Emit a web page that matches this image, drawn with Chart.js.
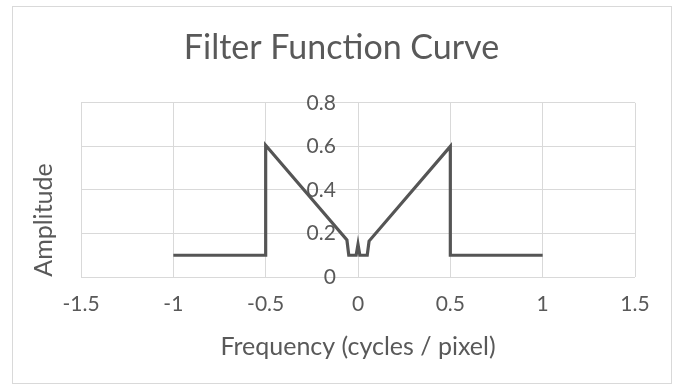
<!DOCTYPE html>
<html>
<head>
<meta charset="utf-8">
<script src="https://cdn.jsdelivr.net/npm/chart.js@4.4.1/dist/chart.umd.min.js"></script>
<style>
  html, body { margin: 0; padding: 0; background: #fff; }
  #frame {
    position: absolute; left: 12px; top: 6px;
    width: 660px; height: 378px;
    border: 1px solid #d9d9d9; box-sizing: border-box;
  }
  #wrap { position: absolute; left: 0; top: 0; width: 683px; height: 390px; }
</style>
</head>
<body>
<div id="frame"></div>
<div id="wrap"><canvas id="filterChart" width="683" height="390"></canvas></div>
<script>
// Filter curve
const frequency = [-1, -0.5, -0.5, -0.06, -0.05, -0.01, 0, 0.01, 0.05, 0.06, 0.5, 0.5, 1];
const amplitude = [0.1, 0.1, 0.605, 0.17, 0.1, 0.1, 0.15, 0.1, 0.1, 0.165, 0.6, 0.1, 0.1];
const xTicks = [-1.5, -1, -0.5, 0, 0.5, 1, 1.5];
const yTicks = [0, 0.2, 0.4, 0.6, 0.8];

const textColor = '#595959';
const gridColor = '#d9d9d9';
const fontFamily = 'Lato, "Open Sans", sans-serif';

const points = frequency.map((f, i) => ({ x: f, y: amplitude[i] }));

// y axis title sits lower than the plot centre in the original, so draw it by hand
const yTitlePlugin = {
  id: 'yTitle',
  afterDraw(chart) {
    const ctx = chart.ctx;
    ctx.save();
    ctx.translate(44, 220);
    ctx.rotate(-Math.PI / 2);
    ctx.fillStyle = textColor;
    ctx.font = '25px ' + fontFamily;
    ctx.textAlign = 'center';
    ctx.textBaseline = 'middle';
    ctx.fillText('Amplitude', 0, 0);
    ctx.restore();
  }
};

new Chart(document.getElementById('filterChart'), {
  type: 'scatter',
  data: {
    datasets: [{
      data: points,
      showLine: true,
      borderColor: '#555555',
      borderWidth: 3.2,
      pointRadius: 0,
      tension: 0
    }]
  },
  options: {
    responsive: false,
    animation: false,
    layout: { padding: { top: 14, right: 48, bottom: 28, left: 48 } },
    plugins: {
      legend: { display: false },
      tooltip: { enabled: false },
      title: {
        display: true,
        text: 'Filter Function Curve',
        color: textColor,
        font: { family: fontFamily, size: 34, weight: 'normal' },
        padding: { top: 14, bottom: 34 }
      }
    },
    scales: {
      x: {
        type: 'linear',
        min: -1.5,
        max: 1.5,
        afterBuildTicks: function(axis) {
          axis.ticks = xTicks.map(v => ({ value: v }));
        },
        ticks: {
          color: textColor,
          font: { family: fontFamily, size: 21, lineHeight: 1 },
          padding: 17,
          callback: v => String(v)
        },
        grid: { color: gridColor, drawTicks: false },
        border: { display: false },
        title: {
          display: true,
          text: 'Frequency (cycles / pixel)',
          color: textColor,
          font: { family: fontFamily, size: 25 },
          padding: { top: 0, bottom: 0 }
        }
      },
      y: {
        type: 'linear',
        min: 0,
        max: 0.8,
        position: { x: -0.12 },
        afterBuildTicks: function(axis) {
          axis.ticks = yTicks.map(v => ({ value: v }));
        },
        ticks: {
          color: textColor,
          font: { family: fontFamily, size: 21 },
          callback: v => String(v)
        },
        grid: { color: gridColor, drawTicks: false },
        border: { display: false }
      },
      yPad: {
        type: 'linear',
        position: 'left',
        min: 0,
        max: 0.8,
        ticks: { display: false },
        grid: { display: false },
        border: { display: false },
        afterFit: function(axis) { axis.width = 33; }
      }
    }
  },
  plugins: [yTitlePlugin]
});
</script>
</body>
</html>
